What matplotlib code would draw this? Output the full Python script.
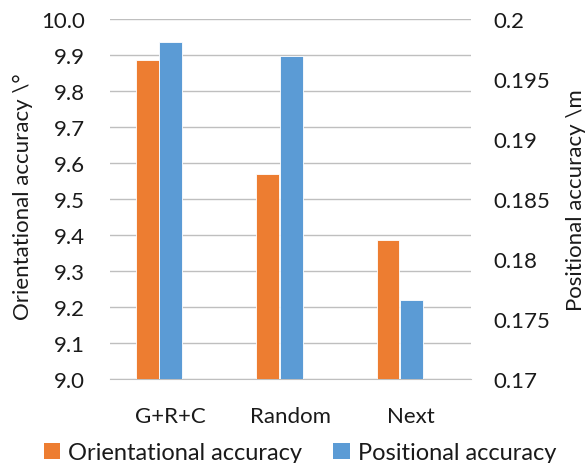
import matplotlib
matplotlib.use("Agg")
import matplotlib.pyplot as plt
import numpy as np
from matplotlib.ticker import FuncFormatter, MultipleLocator
from matplotlib.patches import Patch

categories = ["G+R+C", "Random", "Next"]
orientational = [9.886, 9.569, 9.387]
positional = [0.1981, 0.1969, 0.1766]

ORANGE = "#ED7D31"
BLUE = "#5B9BD5"
GRID = "#BFBFBF"
TXT = "#1a1a1a"
FS = 16

plt.rcParams['font.family'] = ['Lato', 'DejaVu Sans']

fig = plt.figure(figsize=(5.87, 4.64), dpi=100)
ax = fig.add_axes([110/587, 84/464, 361/587, 360/464])
ax2 = ax.twinx()

x = np.arange(len(categories))
w = 0.19
ax.bar(x - 0.19, orientational, width=w, color=ORANGE, edgecolor="white", linewidth=0.6, zorder=3)
ax2.bar(x + 0.005, positional, width=w, color=BLUE, edgecolor="white", linewidth=0.6, zorder=3)

ax.set_xlim(-0.5, 2.5)
ax.set_ylim(9.0, 10.0)
ax2.set_ylim(0.17, 0.2)
ax.yaxis.set_major_locator(MultipleLocator(0.1))
ax2.yaxis.set_major_locator(MultipleLocator(0.005))
ax.yaxis.set_major_formatter(FuncFormatter(lambda v, p: f"{v:.1f}"))
ax2.yaxis.set_major_formatter(FuncFormatter(lambda v, p: f"{round(v, 4):g}"))

ax.set_xticks(x)
ax.set_xticklabels(categories)
ax.grid(axis="y", color=GRID, linewidth=1.0, zorder=0)
ax.set_axisbelow(True)
for a in (ax, ax2):
    for s in a.spines.values():
        s.set_visible(False)
ax.spines["bottom"].set_visible(True)
ax.spines["bottom"].set_color(GRID)
ax.tick_params(axis="both", length=0, labelsize=FS, colors=TXT)
ax.tick_params(axis="y", pad=18)
ax.tick_params(axis="x", pad=19.5)
ax2.tick_params(axis="y", length=0, labelsize=FS, pad=16, colors=TXT)

ax.set_ylabel("Orientational accuracy \\°", fontsize=FS, color=TXT)
ax2.set_ylabel("Positional accuracy \\m", fontsize=FS, color=TXT, rotation=90)
ax.yaxis.set_label_coords(-0.213, 0.51)
ax2.yaxis.set_label_coords(1.262, 0.5)

handles = [Patch(facecolor=ORANGE), Patch(facecolor=BLUE)]
fig.legend(handles, ["Orientational accuracy", "Positional accuracy"], loc="center",
           bbox_to_anchor=(0.511, 0.022), ncol=2, frameon=False, fontsize=17,
           handlelength=0.7, handleheight=0.7, handletextpad=0.35, columnspacing=1.3,
           labelcolor=TXT, borderpad=0)

fig.savefig("out.png", dpi=100)
